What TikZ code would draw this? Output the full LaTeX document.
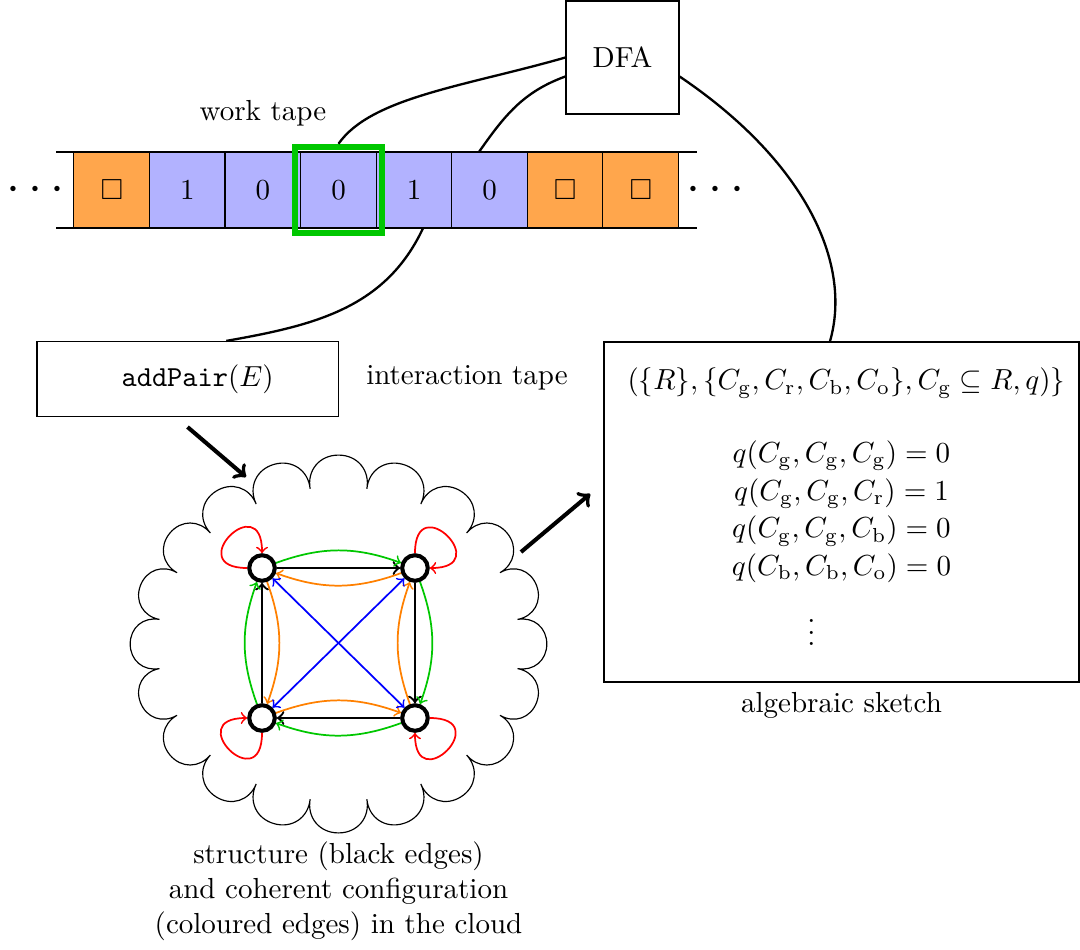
\documentclass[tikz,border=0pt]{standalone}
\usepackage{amsmath,amssymb}
\usepackage{tikz}
\usetikzlibrary{shapes}

\begin{document}
\begin{tikzpicture}%
\tikzstyle{tapecell} = [draw, minimum size=0.92cm, inner sep=0pt, outer sep=0pt]
\tikzstyle{blank} = [tapecell, fill=orange!70]
\tikzstyle{bit} = [tapecell, fill=blue!30]
\tikzstyle{vertex} = [draw, circle, line width=1.4pt, minimum size=0.31cm, inner sep=0pt]
\tikzstyle{wire} = [thick]
\tikzstyle{bigarrow} = [->, line width=1.4pt]
\tikzstyle{structedge} = [->, thick]
\tikzstyle{greenedge} = [->, semithick, green!78!black]
\tikzstyle{orangeedge} = [->, semithick, orange]
\tikzstyle{blueedge} = [<->, semithick, blue]
\tikzstyle{selfloop} = [->, semithick, red, min distance=8mm]
\tikzstyle{tapedots} = [font=\fontsize{19}{22}\selectfont]

\useasboundingbox (0,0) rectangle (13.091,-11.503);

% the tape
\draw (0.679,-1.842) -- (8.448,-1.842);
\draw (0.679,-2.764) -- (8.448,-2.764);
\foreach \sym/\sty [count=\i] in {$\Box$/blank, 1/bit, 0/bit, 0/bit, 1/bit, 0/bit, $\Box$/blank, $\Box$/blank}
    \node[\sty] (c\i) at ({0.439+0.916*\i},-2.303) {\sym};
\node[draw=green!78!black, line width=2pt, minimum size=1.05cm] (head) at (c4) {};
\node[tapedots] (ldots) at (0.48,-2.303) {$\cdots$};
\node[tapedots] (rdots) at (8.72,-2.303) {$\cdots$};
\node (worklabel) at ([yshift=0.47cm]c3.north) {work tape};

\node[draw, minimum size=1.37cm] (dfa) at (7.545,-0.697) {DFA};
\node[draw, minimum width=3.65cm, minimum height=0.91cm] (addpair) at (2.273,-4.594)
    {\hspace{7pt}\texttt{addPair}$(E)$};
\node (interlabel) at (5.661,-4.582) {interaction tape};

\node[draw, minimum width=5.758cm, minimum height=4.12cm, align=center, text depth=3.4pt] (sketch) at (10.2,-6.206) {%
    \hspace*{0.12cm}$(\{R\},\{C_{\mathrm{g}},C_{\mathrm{r}},C_{\mathrm{b}},C_{\mathrm{o}}\},C_{\mathrm{g}}\subseteq R,q)\}$\\[13pt]
    $q(C_{\mathrm{g}},C_{\mathrm{g}},C_{\mathrm{g}})=0$\hspace*{0.12cm}\\[1pt]
    $q(C_{\mathrm{g}},C_{\mathrm{g}},C_{\mathrm{r}})=1$\hspace*{0.12cm}\\[1pt]
    $q(C_{\mathrm{g}},C_{\mathrm{g}},C_{\mathrm{b}})=0$\hspace*{0.12cm}\\[1pt]
    $q(C_{\mathrm{b}},C_{\mathrm{b}},C_{\mathrm{o}})=0$\hspace*{0.12cm}\\[5.7pt]
    $\vdots$\hspace*{0.73cm}};
\node[below] (sketchlabel) at (sketch.south) {algebraic sketch};

% the cloud with the graph
\node[cloud, draw, cloud puffs=20, cloud puff arc=200, minimum width=5.05cm, minimum height=4.58cm] (cloud) at (4.103,-7.806) {};
\node[vertex] (tl) at (3.176,-6.885) {};
\node[vertex] (tr) at (5.03,-6.885) {};
\node[vertex] (bl) at (3.176,-8.703) {};
\node[vertex] (br) at (5.03,-8.703) {};
\foreach \a/\b in {tl/tr, tr/br, br/bl, bl/tl}
    \draw[structedge] (\a) -- (\b);
\foreach \a/\b in {tl/tr, tr/br, br/bl, bl/tl}
    \draw[greenedge] (\a) to[bend left=20] (\b);
\foreach \a/\b in {tr/tl, tl/bl, bl/br, br/tr}
    \draw[orangeedge] (\a) to[bend left=20] (\b);
\draw[blueedge] (tl) -- (br);
\draw[blueedge] (tr) -- (bl);
\draw[selfloop] (tl) to[out=180,in=90] (tl);
\draw[selfloop] (tr) to[out=90,in=0] (tr);
\draw[selfloop] (br) to[out=0,in=-90] (br);
\draw[selfloop] (bl) to[out=-90,in=180] (bl);
\node[align=center] (caption) at (4.103,-10.8)
    {structure (black edges)\\and coherent configuration\\(coloured edges) in the cloud};

% connections
\draw[wire] (dfa.west) to[out=196,in=55,out looseness=1.1,in looseness=0.6] (head.north);
\draw[wire] ([yshift=-2.3mm]dfa.west) to[out=200,in=55] ([xshift=-1.3mm]c6.north);
\draw[wire] ([yshift=-2.3mm]dfa.east) to[out=-34,in=74,out looseness=1.25,in looseness=0.7] ([xshift=-1.4mm]sketch.north);
\draw[wire] ([xshift=1.1mm]c5.south) to[out=-115,in=10] ([xshift=4.7mm]addpair.north);
\coordinate (cloudin) at (2.982,-5.782);
\coordinate (cloudout) at (6.315,-6.691);
\draw[bigarrow] ([yshift=-1.2mm]addpair.south) -- (cloudin);
\draw[bigarrow] (cloudout) -- ([shift={(-0.16,0.22)}]sketch.west);
\end{tikzpicture}
\end{document}
